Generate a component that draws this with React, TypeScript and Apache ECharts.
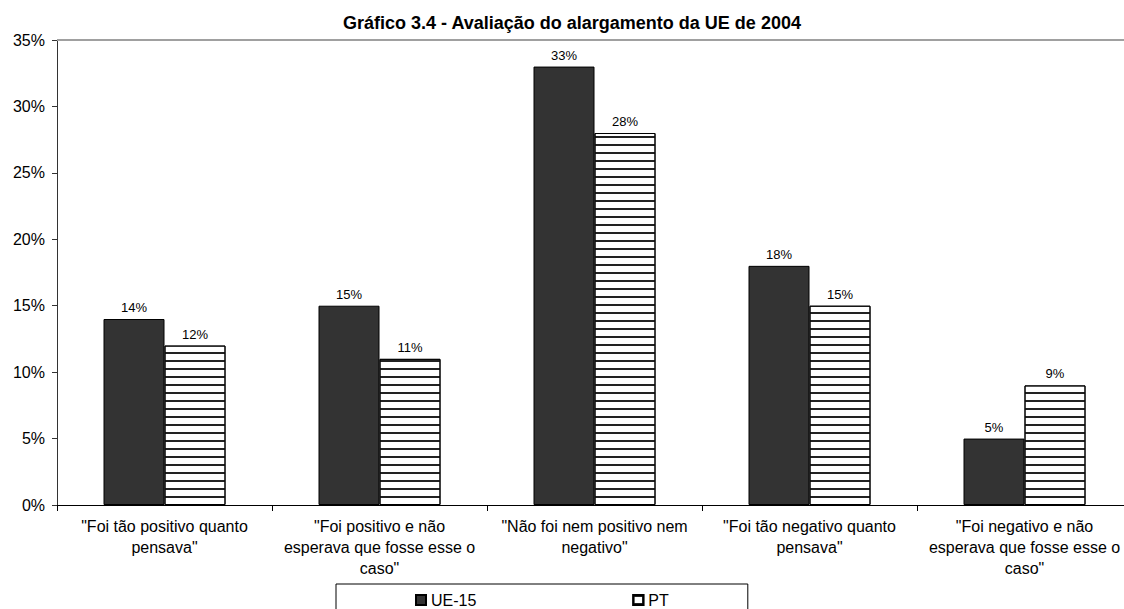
import React, { useEffect, useRef } from "react";
import * as echarts from "echarts";

const categories = [
  "\"Foi tão positivo quanto\npensava\"",
  "\"Foi positivo e não\nesperava que fosse esse o\ncaso\"",
  "\"Não foi nem positivo nem\nnegativo\"",
  "\"Foi tão negativo quanto\npensava\"",
  "\"Foi negativo e não\nesperava que fosse esse o\ncaso\"",
];
const ue15 = [14, 15, 33, 18, 5];
const pt = [12, 11, 28, 15, 9];
const yTicks = { min: 0, max: 35, interval: 5 };

export default function App() {
  const ref = useRef<HTMLDivElement>(null);
  useEffect(() => {
    if (!ref.current) return;
    const chart = echarts.init(ref.current, null, { renderer: "svg" });
    const font = "Liberation Sans, Arial, sans-serif";
    chart.setOption({
      animation: false,
      backgroundColor: "#fff",
      textStyle: { fontFamily: font },
      title: {
        text: "Gráfico 3.4 - Avaliação do alargamento da UE de 2004",
        left: 567,
        textAlign: "center",
        top: 9,
        textStyle: { fontSize: 18, fontWeight: "bold", color: "#000", fontFamily: font },
      },
      legend: {
        data: ["UE-15", "PT"],
        left: 336,
        top: 584,
        padding: [8, 79, 8, 79],
        borderColor: "#000",
        borderWidth: 1,
        itemGap: 156,
        itemWidth: 10,
        itemHeight: 10,
        icon: "rect",
        textStyle: { fontSize: 16, color: "#000", fontFamily: font },
      },
      grid: {
        left: 57,
        width: 1075,
        top: 40,
        height: 465,
        containLabel: false,
        outerBoundsMode: "none",
        show: false,
      },
      xAxis: {
        type: "category",
        data: categories,
        axisLine: { lineStyle: { color: "#000", width: 1 } },
        axisTick: { show: true, length: 6, lineStyle: { color: "#000" } },
        splitLine: { show: false },
        axisLabel: {
          interval: 0,
          fontSize: 16,
          lineHeight: 21,
          color: "#000",
          margin: 11,
          fontFamily: font,
        },
      },
      yAxis: {
        type: "value",
        min: yTicks.min,
        max: yTicks.max,
        interval: yTicks.interval,
        axisLine: { show: true, lineStyle: { color: "#333", width: 1 } },
        axisTick: { show: true, length: 5, lineStyle: { color: "#333" } },
        splitLine: { show: false },
        axisLabel: {
          formatter: "{value}%",
          fontSize: 16,
          color: "#000",
          margin: 12,
          fontFamily: font,
        },
      },
      series: [
        {
          name: "UE-15",
          type: "bar",
          data: ue15,
          barWidth: 61,
          barGap: "0%",
          itemStyle: { color: "#333333", borderColor: "#000", borderWidth: 1 },
          label: {
            show: true,
            position: "top",
            formatter: "{c}%",
            fontSize: 13,
            color: "#000",
            fontFamily: font,
          },
          markLine: {
            silent: true,
            symbol: "none",
            label: { show: false },
            lineStyle: { color: "#a0a0a0", type: "solid", width: 2 },
            data: [{ yAxis: yTicks.max }],
          },
        },
        {
          name: "PT",
          type: "bar",
          data: pt,
          barWidth: 61,
          barGap: "0%",
          itemStyle: {
            color: "#ffffff",
            borderColor: "#000",
            borderWidth: 1,
            decal: {
              symbol: "rect",
              symbolSize: 1,
              color: "#222",
              dashArrayX: [1, 0],
              dashArrayY: [2, 6],
              rotation: 0,
            },
          },
          label: {
            show: true,
            position: "top",
            formatter: "{c}%",
            fontSize: 13,
            color: "#000",
            fontFamily: font,
          },
        },
      ],
    });
    return () => chart.dispose();
  }, []);
  return (
    <div
      ref={ref}
      style={{ position: "fixed", left: 0, top: 0, width: 1124, height: 609 }}
    />
  );
}
